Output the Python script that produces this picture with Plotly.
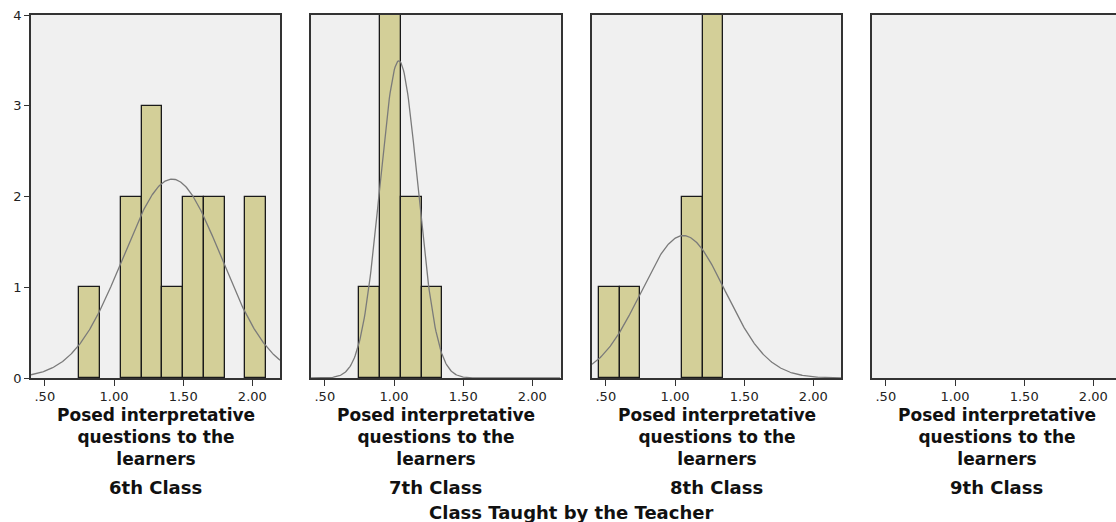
import numpy as np
import plotly.graph_objects as go

# ---------------- data ----------------
bin_width = 0.15
class_labels = ["6th Class", "7th Class", "8th Class", "9th Class"]
class6_bin_start = [0.75, 1.05, 1.20, 1.35, 1.50, 1.65, 1.95]
class6_counts = [1, 2, 3, 1, 2, 2, 2]
class7_bin_start = [0.75, 0.90, 1.05, 1.20]
class7_counts = [1, 4, 2, 1]
class8_bin_start = [0.45, 0.60, 1.05, 1.20]
class8_counts = [1, 1, 2, 4]
class9_bin_start = []
class9_counts = []
# fitted normal curve parameters (mean, sd) per class
fit_mean = [1.42, 1.035, 1.06, None]
fit_sd = [0.355, 0.137, 0.305, None]
x_tick_vals = [0.5, 1.0, 1.5, 2.0]
x_tick_text = [".50", "1.00", "1.50", "2.00"]
y_tick_vals = [0, 1, 2, 3, 4]
axis_title_lines = ["Posed interpretative", "questions to the", "learners"]
overall_title = "Class Taught by the Teacher"

bins = [class6_bin_start, class7_bin_start, class8_bin_start, class9_bin_start]
counts = [class6_counts, class7_counts, class8_counts, class9_counts]

W, H = 1116, 522
panel_px = [(31, 280), (311, 561), (592, 841), (872, 1116)]
px_per_unit = (280 - 31) / 1.8
y_top_px, y_bot_px = 15, 378

BAR_FILL = "#D3CF98"
FRAME = "#333333"
BG = "#F0F0F0"
FONT = "DejaVu Sans"

fig = go.Figure()
for i in range(4):
    ax = "" if i == 0 else str(i + 1)
    if bins[i]:
        centers = [b + bin_width / 2 for b in bins[i]]
        fig.add_trace(go.Bar(
            x=centers, y=counts[i], width=[bin_width] * len(centers),
            marker=dict(color=BAR_FILL, line=dict(color="#1a1a1a", width=1.3)),
            xaxis="x" + ax, yaxis="y" + ax, showlegend=False, hoverinfo="x+y"))
    if fit_mean[i] is not None:
        n = sum(counts[i])
        xs = np.linspace(0.4, 2.2, 300)
        ys = n * bin_width * np.exp(-0.5 * ((xs - fit_mean[i]) / fit_sd[i]) ** 2) / (fit_sd[i] * np.sqrt(2 * np.pi))
        fig.add_trace(go.Scatter(
            x=xs, y=ys, mode="lines", line=dict(color="#7a7a7a", width=1.3),
            xaxis="x" + ax, yaxis="y" + ax, showlegend=False, hoverinfo="skip"))

layout = dict(
    width=W, height=H, margin=dict(l=0, r=0, t=0, b=0, autoexpand=False),
    paper_bgcolor="white", plot_bgcolor=BG, bargap=0,
    font=dict(family=FONT, color="#222"),
)
annotations = []
for i in range(4):
    ax = "" if i == 0 else str(i + 1)
    x0, x1 = panel_px[i]
    xmax = 0.4 + (x1 - x0) / px_per_unit
    layout["xaxis" + ax] = dict(
        domain=[x0 / W, x1 / W], range=[0.4, xmax], anchor="y" + ax,
        showline=True, linecolor=FRAME, linewidth=1.5, mirror=True,
        showgrid=False, zeroline=False, automargin=False,
        tickvals=x_tick_vals, ticktext=x_tick_text,
        ticks="outside", ticklen=6, tickcolor=FRAME, tickwidth=1.3,
        tickfont=dict(size=13, color="#222", family=FONT),
    )
    layout["yaxis" + ax] = dict(
        domain=[1 - y_bot_px / H, 1 - y_top_px / H], range=[0, 4],
        anchor="x" + ax,
        showline=True, linecolor=FRAME, linewidth=1.5, mirror=(i < 3),
        showgrid=False, zeroline=False, automargin=False,
        tickvals=y_tick_vals,
        ticks="outside" if i == 0 else "", ticklen=5, tickcolor=FRAME,
        showticklabels=(i == 0),
        tickfont=dict(size=13, color="#222", family=FONT),
    )
    annotations.append(dict(
        text="<b>" + "<br>".join(axis_title_lines) + "</b>",
        x=1.3, xref="x" + ax, y=1 - 437 / H, yref="paper",
        xanchor="center", yanchor="middle", align="center", showarrow=False,
        font=dict(size=17, color="#111", family=FONT)))
    annotations.append(dict(
        text="<b>" + class_labels[i] + "</b>", x=1.3, xref="x" + ax, y=1 - 487 / H, yref="paper",
        xanchor="center", yanchor="middle", showarrow=False,
        font=dict(size=18, color="#111", family=FONT)))

annotations.append(dict(
    text="<b>" + overall_title + "</b>", x=571 / W, xref="paper", y=1 - 512 / H, yref="paper",
    xanchor="center", yanchor="middle", showarrow=False,
    font=dict(size=18, color="#111", family=FONT)))
layout["annotations"] = annotations
fig.update_layout(**layout)
fig.write_html("out.html")
